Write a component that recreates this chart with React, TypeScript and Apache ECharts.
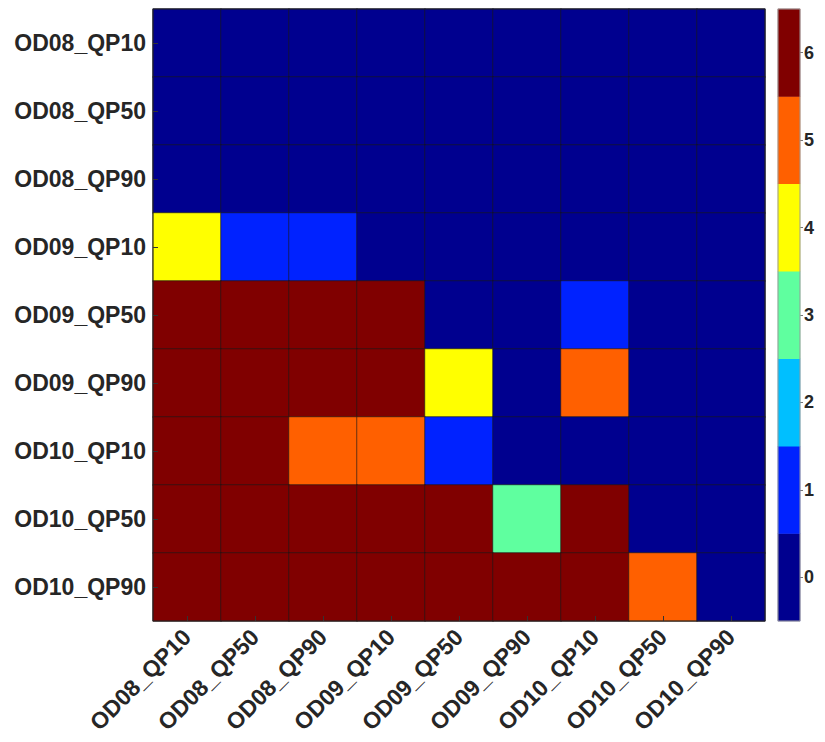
import React, { useEffect, useRef } from "react";
import * as echarts from "echarts";

const categories = [
  "OD08_QP10", "OD08_QP50", "OD08_QP90",
  "OD09_QP10", "OD09_QP50", "OD09_QP90",
  "OD10_QP10", "OD10_QP50", "OD10_QP90",
];

// rows (top to bottom) x columns (left to right)
const matrix: number[][] = [
  [0, 0, 0, 0, 0, 0, 0, 0, 0],
  [0, 0, 0, 0, 0, 0, 0, 0, 0],
  [0, 0, 0, 0, 0, 0, 0, 0, 0],
  [4, 1, 1, 0, 0, 0, 0, 0, 0],
  [6, 6, 6, 6, 0, 0, 1, 0, 0],
  [6, 6, 6, 6, 4, 0, 5, 0, 0],
  [6, 6, 5, 5, 1, 0, 0, 0, 0],
  [6, 6, 6, 6, 6, 3, 6, 0, 0],
  [6, 6, 6, 6, 6, 6, 6, 5, 0],
];

const levels = [0, 1, 2, 3, 4, 5, 6];
const levelColors = ["#00008F", "#0022FF", "#00BFFF", "#5FFF9F", "#FFFF00", "#FF6000", "#800000"];

const FONT = "'Liberation Sans', Arial, Helvetica, sans-serif";
const TEXT = "#262626";

export default function App() {
  const ref = useRef<HTMLDivElement>(null);
  useEffect(() => {
    document.body.style.margin = "0";
    if (!ref.current) return;
    const chart = echarts.init(ref.current, undefined, { renderer: "svg" });

    const heatData: number[][] = [];
    matrix.forEach((row, r) => row.forEach((v, c) => heatData.push([c, r, v])));
    const barData = levels.map((lv, i) => [0, i, lv]);

    chart.setOption({
      animation: false,
      backgroundColor: "#ffffff",
      visualMap: {
        type: "piecewise",
        show: false,
        dimension: 2,
        seriesIndex: [0, 1],
        pieces: levels.map((lv, i) => ({ value: lv, color: levelColors[i] })),
      },
      grid: [
        { left: 153, top: 9, width: 612, height: 612, show: true, borderColor: "#222", borderWidth: 1, backgroundColor: "transparent", z: 10 },
        { left: 778, top: 9, width: 22, height: 612, show: true, borderColor: "#999", borderWidth: 1, backgroundColor: "transparent", z: 10 },
      ],
      xAxis: [
        {
          type: "category",
          gridIndex: 0,
          data: categories,
          axisLine: { show: false },
          axisTick: { show: true, inside: true, length: 5, alignWithLabel: true, lineStyle: { color: "#333" } },
          splitLine: { show: false },
          axisLabel: {
            rotate: 45,
            fontFamily: FONT,
            fontWeight: "bold",
            fontSize: 23,
            color: TEXT,
            margin: 12,
            interval: 0,
          },
          z: 20,
        },
        {
          type: "category",
          gridIndex: 1,
          data: ["c"],
          show: false,
        },
      ],
      yAxis: [
        {
          type: "category",
          gridIndex: 0,
          data: categories,
          inverse: true,
          axisLine: { show: false },
          axisTick: { show: true, inside: true, length: 5, alignWithLabel: true, lineStyle: { color: "#333" } },
          splitLine: { show: false },
          axisLabel: {
            fontFamily: FONT,
            fontWeight: "bold",
            fontSize: 23,
            color: TEXT,
            margin: 7,
            interval: 0,
          },
          z: 20,
        },
        {
          type: "category",
          gridIndex: 1,
          position: "right",
          data: levels.map(String),
          axisLine: { show: false },
          axisTick: { show: true, inside: false, length: 3, alignWithLabel: true, lineStyle: { color: "#777" } },
          splitLine: { show: false },
          axisLabel: {
            fontFamily: FONT,
            fontWeight: "bold",
            fontSize: 18,
            color: TEXT,
            margin: 4,
          },
        },
      ],
      series: [
        {
          type: "heatmap",
          xAxisIndex: 0,
          yAxisIndex: 0,
          data: heatData,
          itemStyle: { borderColor: "#1a1a1a", borderWidth: 0.6 },
          emphasis: { disabled: true },
        },
        {
          type: "heatmap",
          xAxisIndex: 1,
          yAxisIndex: 1,
          data: barData,
          itemStyle: { borderWidth: 0 },
          emphasis: { disabled: true },
        },
      ],
    });
    return () => chart.dispose();
  }, []);
  return <div ref={ref} style={{ width: 825, height: 742 }} />;
}
